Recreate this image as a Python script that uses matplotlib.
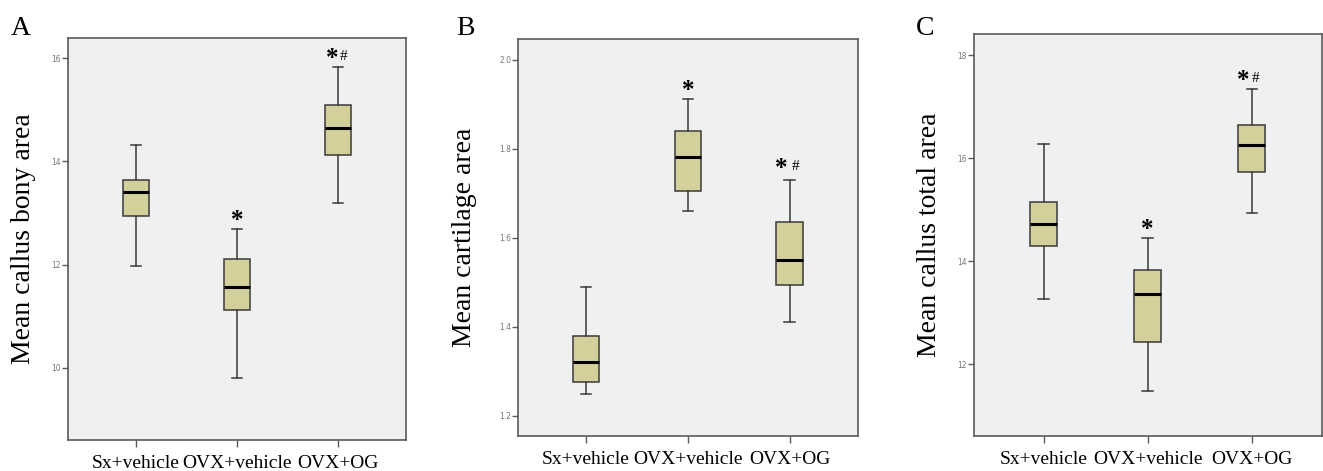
import matplotlib
matplotlib.use("Agg")
import matplotlib.pyplot as plt

# ── Data (whisker low, Q1, median, Q3, whisker high) ──
groups = ["Sx+vehicle", "OVX+vehicle", "OVX+OG"]

bony_low = [11.97, 9.81, 13.19]
bony_q1 = [12.94, 11.11, 14.13]
bony_med = [13.40, 11.56, 14.64]
bony_q3 = [13.64, 12.10, 15.10]
bony_high = [14.32, 12.69, 15.82]

cart_low = [1.249, 1.661, 1.410]
cart_q1 = [1.276, 1.705, 1.495]
cart_med = [1.321, 1.782, 1.550]
cart_q3 = [1.379, 1.840, 1.635]
cart_high = [1.490, 1.911, 1.730]

total_low = [13.26, 11.48, 14.93]
total_q1 = [14.29, 12.44, 15.73]
total_med = [14.73, 13.37, 16.25]
total_q3 = [15.15, 13.84, 16.65]
total_high = [16.27, 14.45, 17.34]

bony_ticks = [10, 12, 14, 16]
cart_ticks = [1.2, 1.4, 1.6, 1.8, 2.0]
total_ticks = [12, 14, 16, 18]

# significance marks per group: (star, hash)
bony_marks = [("", ""), ("*", ""), ("*", "#")]
cart_marks = [("", ""), ("*", ""), ("*", "#")]
total_marks = [("", ""), ("*", ""), ("*", "#")]

BOX_FILL = "#d3d09b"
BOX_EDGE = "#3a3a3a"
BG = "#f0f0f0"
SPINE = "#5a5a5a"

plt.rcParams["font.family"] = ["Liberation Serif", "DejaVu Serif"]

fig = plt.figure(figsize=(13.23, 4.71), dpi=100)

panels = [
    # letter, ylabel, stats, ticks, ylim, tick fmt, marks, axes rect, label x, letter x,
    # (star dx, hash dx, extra lift) for the "*#" pair, in points
    ("A", "Mean callus bony area",
     (bony_low, bony_q1, bony_med, bony_q3, bony_high), bony_ticks, (8.6, 16.39), "{:d}",
     bony_marks, [0.0514, 0.0658, 0.2555, 0.8535], -0.095, 0.008, (-4.5, 3.8, 0)),
    ("B", "Mean cartilage area",
     (cart_low, cart_q1, cart_med, cart_q3, cart_high), cart_ticks, (1.155, 2.047), "{:.1f}",
     cart_marks, [0.3915, 0.0749, 0.2568, 0.8423], -0.121, 0.345, (-6.3, 4.5, 2)),
    ("C", "Mean callus total area",
     (total_low, total_q1, total_med, total_q3, total_high), total_ticks, (10.61, 18.41), "{:d}",
     total_marks, [0.7360, 0.0749, 0.2630, 0.8522], -0.092, 0.692, (-6.5, 2.6, 0)),
]

for letter, ylabel, st, ticks, ylim, fmt, marks, rect, lab_x, let_x, pair in panels:
    ax = fig.add_axes(rect)
    ax.set_facecolor(BG)
    lows, q1s, meds, q3s, highs = st
    stats = []
    for i, g in enumerate(groups):
        stats.append({"label": g, "whislo": lows[i], "q1": q1s[i], "med": meds[i],
                      "q3": q3s[i], "whishi": highs[i], "fliers": []})
    ax.bxp(stats, positions=range(len(groups)), widths=0.26, patch_artist=True,
           showfliers=False,
           boxprops=dict(facecolor=BOX_FILL, edgecolor=BOX_EDGE, linewidth=1.1),
           medianprops=dict(color="black", linewidth=2.2),
           whiskerprops=dict(color=BOX_EDGE, linewidth=1.1),
           capprops=dict(color=BOX_EDGE, linewidth=1.1),
           capwidths=0.1)

    # significance symbols above upper whiskers
    sdx, hdx, lift = pair
    for i, (star, hsh) in enumerate(marks):
        if not star:
            continue
        if hsh:
            ax.annotate(star, (i, highs[i]), xytext=(sdx, 1.5 + lift), textcoords="offset points",
                        ha="center", va="baseline", fontsize=18, fontweight="bold")
            ax.annotate(hsh, (i, highs[i]), xytext=(hdx, 5 + lift), textcoords="offset points",
                        ha="center", va="baseline", fontsize=11)
        else:
            ax.annotate(star, (i, highs[i]), xytext=(0, 1.5), textcoords="offset points",
                        ha="center", va="baseline", fontsize=18, fontweight="bold")

    ax.set_xlim(-0.67, 2.67)
    ax.set_ylim(*ylim)
    ax.set_yticks(ticks)
    ax.set_yticklabels([fmt.format(t) for t in ticks], fontsize=5.5, color="#777777",
                       family="DejaVu Sans")
    ax.set_xticks(range(len(groups)))
    ax.set_xticklabels(groups, fontsize=14)
    ax.tick_params(axis="y", length=4, width=1, color=SPINE, pad=1)
    ax.tick_params(axis="x", length=5, width=1, color=SPINE, pad=6)
    for sp in ax.spines.values():
        sp.set_color(SPINE)
        sp.set_linewidth(1.2)

    ax.set_ylabel(ylabel, fontsize=20)
    ax.yaxis.set_label_coords(lab_x, 0.5)
    fig.text(let_x, 0.965, letter, fontsize=20, ha="left", va="top")

fig.savefig("out.png", dpi=100)
